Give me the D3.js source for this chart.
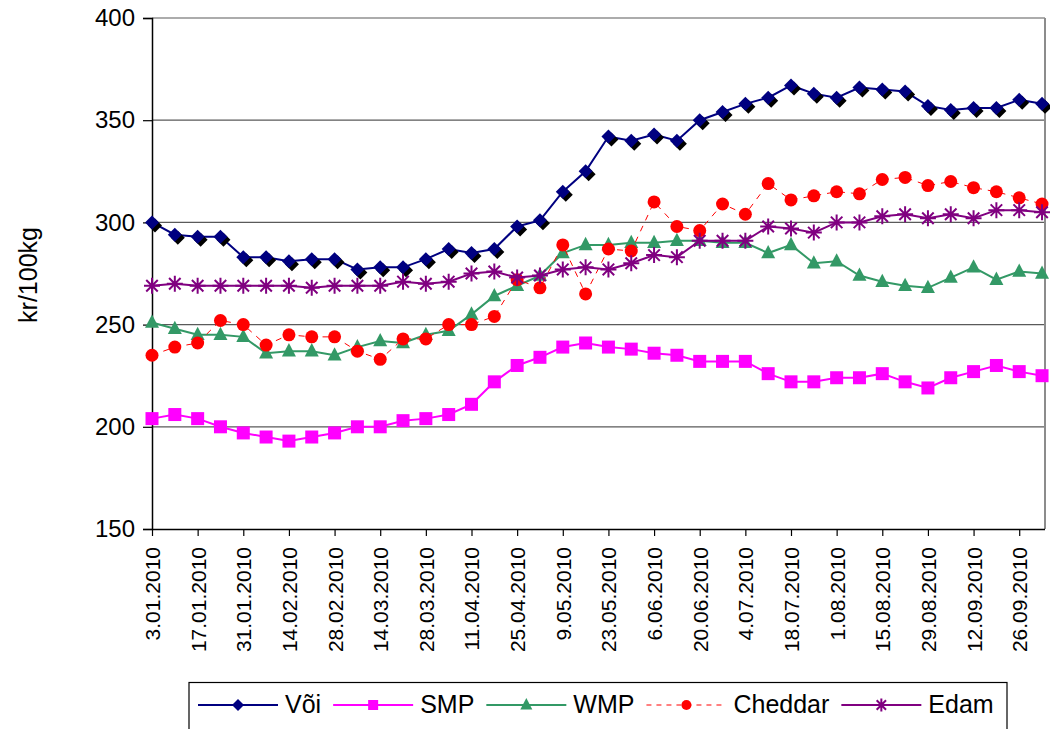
<!DOCTYPE html>
<html>
<head>
<meta charset="utf-8">
<script src="https://cdn.jsdelivr.net/npm/d3@7"></script>
<style>
  html, body { margin: 0; padding: 0; background: #fff; }
  svg { display: block; font-family: Arial, "Liberation Sans", sans-serif; }
</style>
</head>
<body>
<svg id="chart" width="1050" height="729"></svg>
<script>
// weekly prices, kr/100kg, week 0 = 3.01.2010
const voi = [300, 294, 293, 293, 283, 283, 281, 282, 282, 277, 278, 278, 282, 287, 285, 287, 298, 301, 315, 325,
    342, 340, 343, 340, 350, 354, 358, 361, 367, 363, 361, 366, 365, 364, 357, 355, 356, 356, 360, 358];
const smp = [204, 206, 204, 200, 197, 195, 193, 195, 197, 200, 200, 203, 204, 206, 211, 222, 230, 234, 239, 241,
    239, 238, 236, 235, 232, 232, 232, 226, 222, 222, 224, 224, 226, 222, 219, 224, 227, 230, 227, 225];
const wmp = [251, 248, 245, 245, 244, 236, 237, 237, 235, 239, 242, 241, 245, 247, 255, 264, 269, 274, 285, 289,
    289, 290, 290, 291, 291, 290, 290, 285, 289, 280, 281, 274, 271, 269, 268, 273, 278, 272, 276, 275];
const cheddar = [235, 239, 241, 252, 250, 240, 245, 244, 244, 237, 233, 243, 243, 250, 250, 254, 272, 268, 289, 265,
    287, 286, 310, 298, 296, 309, 304, 319, 311, 313, 315, 314, 321, 322, 318, 320, 317, 315, 312, 309];
const edam = [269, 270, 269, 269, 269, 269, 269, 268, 269, 269, 269, 271, 270, 271, 275, 276, 273, 274, 277, 278,
    277, 280, 284, 283, 291, 291, 291, 298, 297, 295, 300, 300, 303, 304, 302, 304, 302, 306, 306, 305];

// one label every second week
const tickLabels = ["3.01.2010", "17.01.2010", "31.01.2010", "14.02.2010", "28.02.2010", "14.03.2010",
    "28.03.2010", "11.04.2010", "25.04.2010", "9.05.2010", "23.05.2010", "6.06.2010", "20.06.2010",
    "4.07.2010", "18.07.2010", "1.08.2010", "15.08.2010", "29.08.2010", "12.09.2010", "26.09.2010"];
const yTicks = [150, 200, 250, 300, 350, 400];

const series = [
    { name: "Või", values: voi, color: "#000080", marker: "diamond", width: 2 },
    { name: "SMP", values: smp, color: "#FF00FF", marker: "square", width: 2 },
    { name: "WMP", values: wmp, color: "#339966", marker: "triangle", width: 2 },
    { name: "Cheddar", values: cheddar, color: "#FF0000", marker: "circle", width: 1, dash: "6,6" },
    { name: "Edam", values: edam, color: "#800080", marker: "star", width: 2 }
];

const svg = d3.select("#chart");
const plotLeft = 152, plotRight = 1045, plotTop = 18, plotBottom = 529;

const x = d3.scaleLinear().domain([0, 39.13]).range([plotLeft, plotRight]);
const y = d3.scaleLinear().domain([150, 400]).range([plotBottom, plotTop]);

// gridlines
svg.append("g")
    .selectAll("line")
    .data(yTicks.slice(1))
    .join("line")
    .attr("x1", plotLeft).attr("x2", plotRight)
    .attr("y1", d => y(d)).attr("y2", d => y(d))
    .attr("stroke", "#5a5a5a")
    .attr("stroke-width", 1.2);

// right border of the plot
svg.append("line")
    .attr("x1", plotRight).attr("x2", plotRight)
    .attr("y1", plotTop).attr("y2", plotBottom)
    .attr("stroke", "#8c8c8c")
    .attr("stroke-width", 2);

// y axis
const yAxis = svg.append("g")
    .attr("transform", `translate(${plotLeft},0)`)
    .call(d3.axisLeft(y).tickValues(yTicks).tickSize(9).tickPadding(8));
yAxis.select(".domain").attr("stroke", "#000").attr("stroke-width", 1.5);
yAxis.selectAll(".tick line").attr("stroke", "#000").attr("stroke-width", 1.2);
yAxis.selectAll(".tick text")
    .attr("font-size", 24)
    .attr("fill", "#000")
    .attr("font-family", "Arial, 'Liberation Sans', sans-serif");

// x axis
const xAxis = svg.append("g")
    .attr("transform", `translate(0,${plotBottom})`)
    .call(d3.axisBottom(x)
        .tickValues(tickLabels.map((d, i) => i * 2))
        .tickFormat((d, i) => tickLabels[i])
        .tickSize(7)
        .tickSizeOuter(0));
xAxis.select(".domain").attr("stroke", "#000").attr("stroke-width", 1.5)
    .attr("d", `M${plotLeft},0.5H${plotRight}`);
xAxis.selectAll(".tick line").attr("stroke", "#000").attr("stroke-width", 1.2);
xAxis.selectAll(".tick text")
    .attr("font-size", 21)
    .attr("fill", "#000")
    .attr("font-family", "Arial, 'Liberation Sans', sans-serif")
    .attr("transform", "rotate(-90)")
    .attr("text-anchor", "end")
    .attr("dominant-baseline", "central")
    .attr("x", -18)
    .attr("y", 0)
    .attr("dy", null);

// y title
svg.append("text")
    .attr("transform", "translate(37,275) rotate(-90)")
    .attr("text-anchor", "middle")
    .attr("font-size", 25)
    .attr("fill", "#000")
    .text("kr/100kg");

function drawMarker(g, type, color, s) {
    if (type === "diamond") {
        g.append("path").attr("d", `M3,${-s + 3}L${s + 3},3L3,${s + 3}L${-s + 3},3Z`).attr("fill", "#000");
        g.append("path").attr("d", `M0,${-s}L${s},0L0,${s}L${-s},0Z`).attr("fill", color);
    } else if (type === "square") {
        g.append("rect").attr("x", -s).attr("y", -s).attr("width", 2 * s).attr("height", 2 * s).attr("fill", color);
    } else if (type === "triangle") {
        g.append("path").attr("d", `M0,${-s * 1.15}L${s},${s * 0.75}L${-s},${s * 0.75}Z`).attr("fill", color);
    } else if (type === "circle") {
        g.append("circle").attr("r", s).attr("fill", color);
    } else if (type === "star") {
        const a = s, b = s * 0.72;
        g.append("path")
            .attr("d", `M0,${-a}V${a}M${-b},${-b}L${b},${b}M${b},${-b}L${-b},${b}M${-a},0H${a}`)
            .attr("stroke", color).attr("stroke-width", 2).attr("fill", "none");
    }
}

const markerSize = { diamond: 7, square: 6.5, triangle: 7, circle: 6.5, star: 8 };

series.forEach(s => {
    const line = d3.line().x((d, i) => x(i)).y(d => y(d));
    svg.append("path")
        .datum(s.values)
        .attr("d", line)
        .attr("fill", "none")
        .attr("stroke", s.color)
        .attr("stroke-width", s.width)
        .attr("stroke-dasharray", s.dash || null);

    const pts = svg.append("g")
        .selectAll("g")
        .data(s.values)
        .join("g")
        .attr("transform", (d, i) => `translate(${x(i)},${y(d)})`);
    pts.each(function () {
        drawMarker(d3.select(this), s.marker, s.color, markerSize[s.marker]);
    });
});

// legend
const legend = svg.append("g");
legend.append("rect")
    .attr("x", 189).attr("y", 682.5)
    .attr("width", 818).attr("height", 70)
    .attr("fill", "#fff")
    .attr("stroke", "#000")
    .attr("stroke-width", 1.2);

let cursor = 198;
const legendY = 705;
const legendMarker = { diamond: 6, square: 5, triangle: 6, circle: 5, star: 6.5 };
series.forEach(s => {
    const item = legend.append("g");
    item.append("line")
        .attr("x1", cursor).attr("x2", cursor + 80)
        .attr("y1", legendY).attr("y2", legendY)
        .attr("stroke", s.color)
        .attr("stroke-width", s.width)
        .attr("stroke-dasharray", s.dash ? "5,5" : null);
    const m = item.append("g").attr("transform", `translate(${cursor + 40},${legendY})`);
    if (s.marker === "diamond") {
        m.append("path").attr("d", "M0,-6L6,0L0,6L-6,0Z").attr("fill", s.color);
    } else {
        drawMarker(m, s.marker, s.color, legendMarker[s.marker]);
    }
    const t = item.append("text")
        .attr("x", cursor + 87)
        .attr("y", 713)
        .attr("font-size", 25)
        .attr("fill", "#000")
        .text(s.name);
    cursor += 87 + t.node().getComputedTextLength() + 12;
});
</script>
</body>
</html>
